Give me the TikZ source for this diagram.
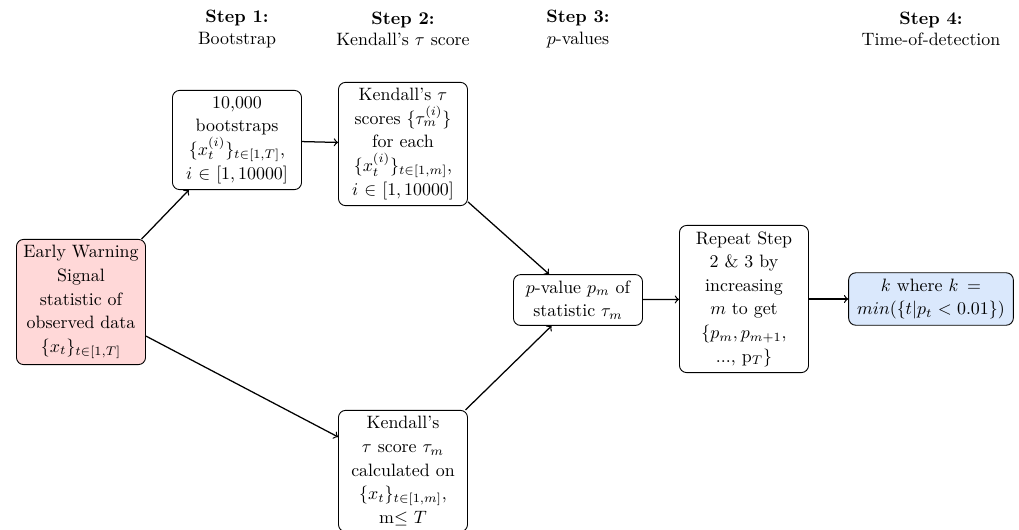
\documentclass[tikz,border=0pt]{standalone}
\usepackage{amsmath}
\definecolor{pinkfill}{RGB}{255,216,216}
\definecolor{bluefill}{RGB}{218,232,252}
\begin{document}
\begin{tikzpicture}[x=0.5587pt,y=-0.5587pt,
  box/.style={draw, rounded corners=4pt, align=center, text width=2.3cm, inner sep=3.33pt, line width=0.5pt, font=\linespread{1.1}\selectfont},
  wide/.style={box, text width=3cm},
  head/.style={align=center},
  arr/.style={->, line width=0.7pt}]
\useasboundingbox (0,0) rectangle (1019,529);
\node[head] (h1) at (237,29) {\textbf{Step 1:}\\Bootstrap};
\node[head] (h2) at (403,29) {\textbf{Step 2:}\\Kendall's $\tau$ score};
\node[head] (h3) at (578,29) {\textbf{Step 3:}\\$p$-values};
\node[head] (h4) at (931,29) {\textbf{Step 4:}\\Time-of-detection};

\node[box, fill=pinkfill] (ews) at (81,302) {Early Warning\\ Signal\\ statistic of\\ observed data\\ $\{x_t\}_{t\in[1,T]}$};
\node[box] (boot) at (237,140) {10,000\\ bootstraps\\ $\{x_t^{(i)}\}_{t\in[1,T]}$,\\ $i\in[1,10000]$};
\node[box] (kt) at (403,144) {Kendall's $\tau$\\ scores $\{\tau_m^{(i)}\}$\\ for each\\ $\{x_t^{(i)}\}_{t\in[1,m]}$,\\ $i\in[1,10000]$};
\node[box] (kb) at (403,471) {Kendall's\\ $\tau$ score $\tau_m$\\ calculated on\\ $\{x_t\}_{t\in[1,m]}$,\\ m$\leq$ $T$};
\node[box] (pv) at (578,300) {$p$-value $p_m$ of\\ statistic $\tau_m$};
\node[box] (rep) at (744,299) {Repeat Step\\ 2 \& 3 by\\ increasing\\ $m$ to get\\ $\{p_m, p_{m+1},$\\ ..., p$_T\}$};
\node[wide, fill=bluefill] (k) at (931,299) {$k$ where $k =$\\ $min(\{t|p_t<0.01\})$};

\draw[arr] (ews) -- (boot);
\draw[arr] (ews) -- (kb);
\draw[arr] (boot) -- (kt);
\draw[arr] (kt) -- (pv);
\draw[arr] (kb) -- (pv);
\draw[arr] (pv) -- (rep);
\draw[arr] (rep) -- (k);
\end{tikzpicture}
\end{document}
